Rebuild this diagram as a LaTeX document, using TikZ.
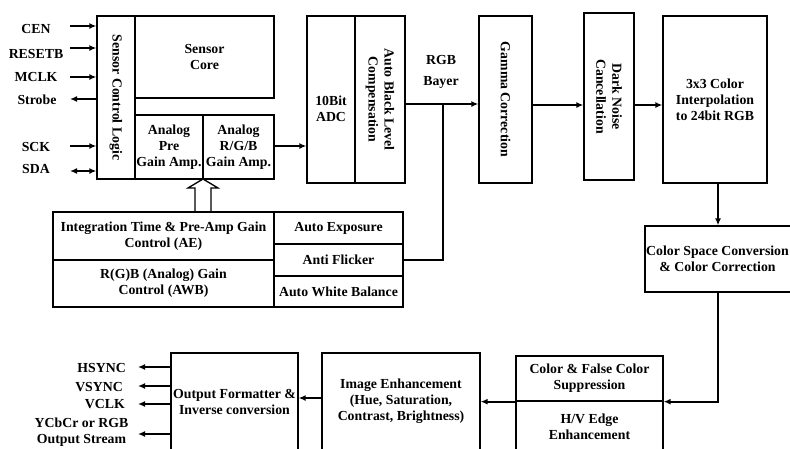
\documentclass[tikz,border=0pt]{standalone}
\usepackage{fontspec}
\setmainfont{Liberation Serif}
\usetikzlibrary{arrows.meta}
\newcommand{\diagfont}{\bfseries\fontsize{13.8}{16}\selectfont}
\begin{document}
\begin{tikzpicture}[x=1pt,y=-1pt,
  box/.style={draw,line width=1.3pt,inner sep=1pt,align=center,font=\diagfont},
  txt/.style={inner sep=0pt,align=center,font=\diagfont},
  conn/.style={line width=1.8pt},
  arr/.style={conn,-{Latex[length=7pt,width=6pt]}},
  darr/.style={conn,{Latex[length=7pt,width=6pt]}-{Latex[length=7pt,width=6pt]}},
]
\useasboundingbox (0,0) rectangle (790,448);

% hollow arrow from control block up to analog amps
\draw[line width=1.3pt] (195,212) -- (195,188) -- (188,188) -- (203,179) -- (218,188) -- (211,188) -- (211,212);

% sensor part
\node[box,minimum width=38,minimum height=163] (scl) at (116,97.5) {};
\node[txt,rotate=-90] (scltxt) at (scl.center) {Sensor Control Logic};
\node[box,minimum width=139,minimum height=82] (core) at (204.5,57) {Sensor\\Core};
\node[box,minimum width=68,minimum height=64] (apre) at (169,147) {Analog\\Pre\\Gain Amp.};
\node[box,minimum width=71,minimum height=64] (argb) at (238.5,147) {Analog\\R/G/B\\Gain Amp.};

% ADC and ABLC
\node[box,minimum width=48,minimum height=167] (adc) at (331,99.5) {};
\node[txt] (adctxt) at (331,109) {10Bit\\ADC};
\node[box,minimum width=50,minimum height=167] (ablc) at (380,99.5) {};
\node[txt,rotate=-90] (ablctxt) at (ablc.center) {Auto Black Level\\Compensation};
\node[txt] (rgb) at (441,72) {RGB\\[5pt]Bayer};

% pipeline top
\node[box,minimum width=53,minimum height=167] (gam) at (505.5,99.5) {};
\node[txt,rotate=-90] (gamtxt) at (gam.center) {Gamma Correction};
\node[box,minimum width=50,minimum height=167] (dn) at (609,96.5) {};
\node[txt,rotate=-90] (dntxt) at (dn.center) {Dark Noise\\Cancellation};
\node[box,minimum width=104,minimum height=167] (ci) at (715,99.5) {3x3 Color\\Interpolation\\to 24bit RGB};
\node[box,minimum width=153,minimum height=66] (csc) at (721.5,259) {};
\node[txt] (csctxt) at (717.5,259) {Color Space Conversion\\\& Color Correction};

% pipeline bottom
\node[box,minimum width=147,minimum height=45] (cfc) at (589.5,378.5) {Color \& False Color\\Suppression};
\node[box,minimum width=147,minimum height=51] (hve) at (589.5,426.5) {H/V Edge\\Enhancement};
\node[box,minimum width=158,minimum height=97] (ie) at (401,401.5) {Image Enhancement\\(Hue, Saturation,\\Contrast, Brightness)};
\node[box,minimum width=127,minimum height=97] (of) at (234.5,401.5) {Output Formatter \&\\Inverse conversion};

% control block
\node[box,minimum width=221,minimum height=48] (iae) at (163.5,236) {Integration Time \& Pre-Amp Gain\\Control (AE)};
\node[box,minimum width=221,minimum height=47] (iawb) at (163.5,283.5) {R(G)B (Analog) Gain\\Control (AWB)};
\node[box,minimum width=129,minimum height=32] (aexp) at (338.5,228) {Auto Exposure};
\node[box,minimum width=129,minimum height=32] (af) at (338.5,260) {Anti Flicker};
\node[box,minimum width=129,minimum height=31] (awbal) at (338.5,291.5) {Auto White Balance};

% input signals
\node[txt] (lcen) at (36,29) {CEN};
\node[txt] (lres) at (36,54) {RESETB};
\node[txt] (lmclk) at (36,76.5) {MCLK};
\node[txt] (lstr) at (37,99.5) {Strobe};
\node[txt] (lsck) at (36,146.5) {SCK};
\node[txt] (lsda) at (36,169) {SDA};
\coordinate (pcen) at (70,26);
\coordinate (pres) at (70,48);
\coordinate (pmclk) at (70,77);
\coordinate (pstr) at (70,99);
\coordinate (psck) at (70,146);
\coordinate (psda) at (70,171);
\draw[arr,line width=1.5pt] (pcen) -- (pcen -| scl.west);
\draw[arr,line width=2.8pt] (pres) -- (pres -| scl.west);
\draw[arr] (pmclk) -- (pmclk -| scl.west);
\draw[arr] (pstr -| scl.west) -- (pstr);
\draw[arr] (psck) -- (psck -| scl.west);
\draw[darr] (psda) -- (psda -| scl.west);

% output signals
\node[txt,anchor=east] (lhs) at (126,367.5) {HSYNC};
\node[txt,anchor=east] (lvs) at (123,387) {VSYNC};
\node[txt,anchor=east] (lvc) at (125,404.5) {VCLK};
\node[txt,anchor=south] (lys) at (81.5,447) {YCbCr or RGB\\Output Stream};
\coordinate (phs) at (138,367);
\coordinate (pvs) at (138,386);
\coordinate (pvc) at (138,404);
\coordinate (pys) at (138,434);
\draw[arr] (of.west |- phs) -- (phs);
\draw[arr] (of.west |- pvs) -- (pvs);
\draw[arr] (of.west |- pvc) -- (pvc);
\draw[arr] (of.west |- pys) -- (pys);

% pipeline connectors
\coordinate (yA) at (0,146);
\coordinate (jn) at (443,104);
\coordinate (yC) at (0,105);
\coordinate (vx) at (718,0);
\coordinate (yD) at (0,398);
\draw[arr] (argb.east |- yA) -- (adc.west |- yA);
\draw[arr] (ablc.east |- jn) -- (gam.west |- jn);
\draw[conn] (af.east) -| (jn);
\draw[arr] (gam.east |- yC) -- (dn.west |- yC);
\draw[arr] (dn.east |- yC) -- (ci.west |- yC);
\draw[arr] (ci.south -| vx) -- (csc.north -| vx);
\draw[arr] (csc.south -| vx) |- (cfc.south east);
\draw[arr] (cfc.south west) -- (ie.east |- cfc.south west);
\draw[arr] (ie.west |- yD) -- (of.east |- yD);
\end{tikzpicture}
\end{document}
